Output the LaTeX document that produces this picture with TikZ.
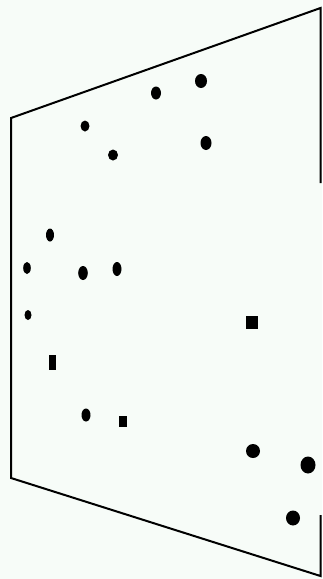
\documentclass[tikz,border=0pt]{standalone}
\definecolor{bgc}{RGB}{247,252,248}
\begin{document}
\begin{tikzpicture}[x=1pt,y=-1pt,
  edge/.style={line width=2pt,line cap=rect},
  dot/.style={fill=black}]
\fill[bgc] (0,0) rectangle (322,579);
\useasboundingbox (0,0) rectangle (322,579);
\coordinate (tl) at (11,118);
\coordinate (bl) at (11,478);
\coordinate (tr) at (320.5,8);
\coordinate (br) at (320.5,576);
\coordinate (trm) at (320.5,182);
\coordinate (brm) at (320.5,516);
\draw[edge] (trm) -- (tr) -- (tl) -- (bl) -- (br) -- (brm);
% dots
\fill[dot] (85,126) ellipse (4.5 and 5.5);
\fill[dot] (113,155) ellipse (5 and 5.5);
\fill[dot] (156,93) ellipse (5 and 6.5);
\fill[dot] (201,81) ellipse (6 and 7);
\fill[dot] (206,143) ellipse (5.5 and 7);
\fill[dot] (50,235) ellipse (4 and 6.5);
\fill[dot] (27,268) ellipse (3.8 and 6);
\fill[dot] (83,273) ellipse (4.8 and 7);
\fill[dot] (117,269) ellipse (4.5 and 7);
\fill[dot] (28,315) ellipse (3.5 and 5);
\fill[dot] (246,315.5) rectangle (258,328.5);
\fill[dot] (48.5,354.5) rectangle (55.5,369.5);
\fill[dot] (86,415) ellipse (4.5 and 6.5);
\fill[dot] (119,415.5) rectangle (127,426.5);
\fill[dot] (253,451) ellipse (7 and 7);
\fill[dot] (308,465) ellipse (7.5 and 8.5);
\fill[dot] (293,518) ellipse (7 and 7.5);
\end{tikzpicture}
\end{document}
